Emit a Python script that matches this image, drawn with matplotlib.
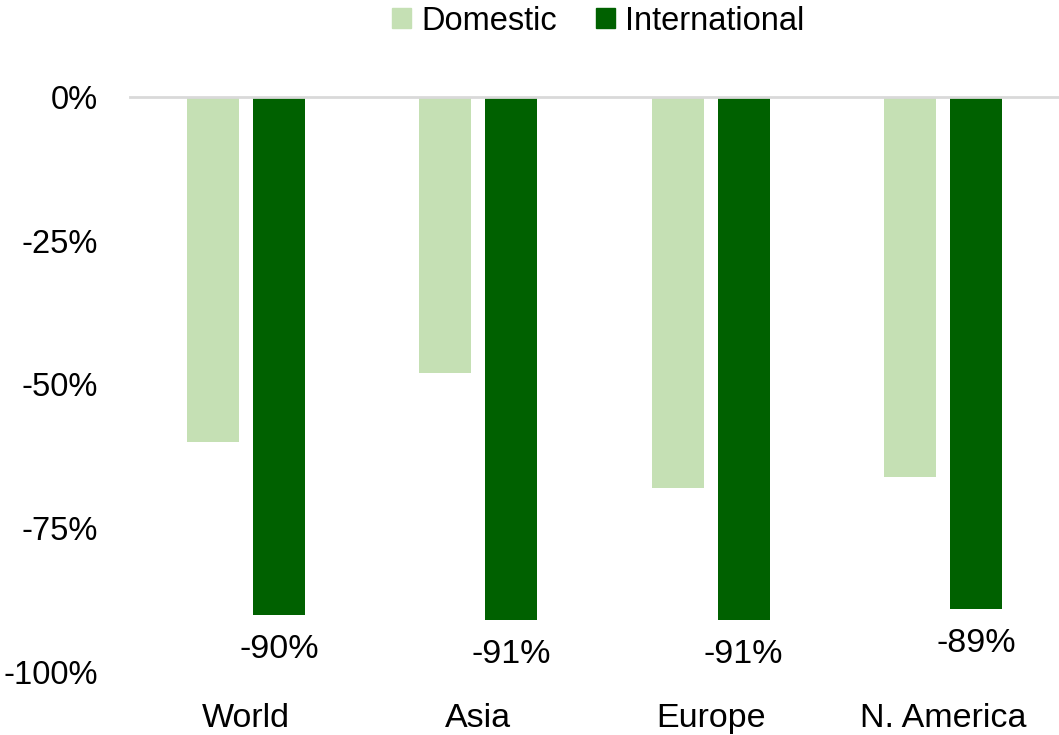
import matplotlib
matplotlib.use("Agg")
import matplotlib.pyplot as plt
from matplotlib.patches import Patch

regions = ["World", "Asia", "Europe", "N. America"]
domestic = [-60, -48, -68, -66]
international = [-90, -91, -91, -89]
yticks = [0, -25, -50, -75, -100]
ytick_labels = ["0%", "-25%", "-50%", "-75%", "-100%"]

color_dom = "#c5e0b4"
color_int = "#006100"

plt.rcParams["font.family"] = ["Liberation Sans", "DejaVu Sans"]
FS = 24.5

fig = plt.figure(figsize=(10.59, 7.35), dpi=100)
ax = fig.add_axes([130 / 1059, 1 - 672 / 735, 929 / 1059, (672 - 97) / 735])

x = list(range(len(regions)))
w = 0.224
off = 0.142
ax.bar([i - off for i in x], domestic, width=w, color=color_dom, zorder=2)
ax.bar([i + off for i in x], international, width=w, color=color_int, zorder=2)

for xi, v in zip(x, international):
    ax.annotate(f"{v}%", xy=(xi + off, v), xytext=(0, -25), textcoords="offset points",
                ha="center", va="center", fontsize=FS, color="#000000")

ax.axhline(0, color="#d9d9d9", lw=2, zorder=3, clip_on=False)

ax.set_xlim(-0.5, 3.5)
ax.set_ylim(-100, 0)
ax.set_yticks(yticks)
ax.set_yticklabels(ytick_labels, fontsize=23.5)
ax.set_xticks(x)
ax.set_xticklabels(regions, fontsize=FS)
ax.tick_params(axis="y", length=0, pad=23)
ax.tick_params(axis="x", length=0, pad=22)
for s in ax.spines.values():
    s.set_visible(False)

handles = [Patch(color=color_dom, label="Domestic"), Patch(color=color_int, label="International")]
fig.legend(handles=handles, loc="center", bbox_to_anchor=(598 / 1059, 1 - 21 / 735), ncol=2,
           frameon=False, fontsize=23.5, handlelength=0.6, handleheight=0.6,
           handletextpad=0.3, columnspacing=1.2, borderaxespad=0, borderpad=0)

fig.savefig("out.png", dpi=100)
